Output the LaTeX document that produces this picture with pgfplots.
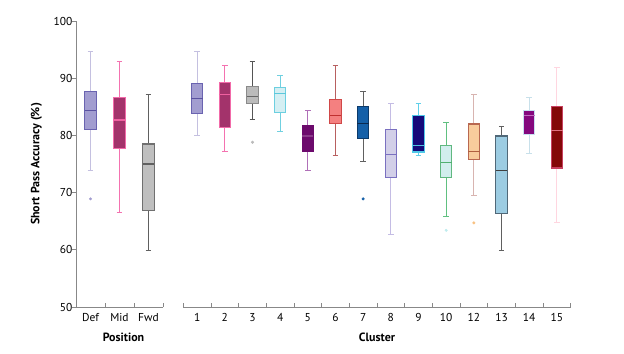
\documentclass[border=0pt]{standalone}
\usepackage{fontspec}
\setmainfont{PT Sans}
\usepackage{pgfplots}
\pgfplotsset{compat=1.18}
\usepgfplotslibrary{statistics}

\definecolor{defF}{HTML}{A29DD0}\definecolor{defB}{HTML}{6A63B0}\definecolor{defM}{HTML}{5A52A0}\definecolor{defW}{HTML}{C4C0E0}
\definecolor{midF}{HTML}{A3336B}\definecolor{midB}{HTML}{F26AA9}\definecolor{midM}{HTML}{F060A0}\definecolor{midW}{HTML}{F472B0}
\definecolor{fwdF}{HTML}{BFBFBF}\definecolor{fwdB}{HTML}{707070}\definecolor{fwdM}{HTML}{606060}\definecolor{fwdW}{HTML}{606060}
\definecolor{c3F}{HTML}{BBBBBB}\definecolor{c3B}{HTML}{8A8A8A}\definecolor{c3M}{HTML}{666666}\definecolor{c3W}{HTML}{555555}
\definecolor{c4F}{HTML}{D4EFF3}\definecolor{c4B}{HTML}{6CCFE0}\definecolor{c4M}{HTML}{5CC8DC}\definecolor{c4W}{HTML}{70D0E0}
\definecolor{c5F}{HTML}{6C0A6C}\definecolor{c5B}{HTML}{6C0A6C}\definecolor{c5M}{HTML}{8A3A8A}\definecolor{c5W}{HTML}{B070B8}
\definecolor{c6F}{HTML}{F48080}\definecolor{c6B}{HTML}{D04848}\definecolor{c6M}{HTML}{C03030}\definecolor{c6W}{HTML}{B86060}
\definecolor{c7F}{HTML}{1560A8}\definecolor{c7B}{HTML}{0C3A6A}\definecolor{c7M}{HTML}{0A2A50}\definecolor{c7W}{HTML}{606060}
\definecolor{c8F}{HTML}{D2CFE8}\definecolor{c8B}{HTML}{7A70C0}\definecolor{c8M}{HTML}{7A70C0}\definecolor{c8W}{HTML}{C4BCE4}
\definecolor{c9F}{HTML}{140A7A}\definecolor{c9B}{HTML}{50C8E8}\definecolor{c9M}{HTML}{50C0E0}\definecolor{c9W}{HTML}{60D0EA}
\definecolor{c10F}{HTML}{D2EEEE}\definecolor{c10B}{HTML}{60B880}\definecolor{c10M}{HTML}{50B070}\definecolor{c10W}{HTML}{60C080}\definecolor{c10O}{HTML}{C0ECEE}
\definecolor{c12F}{HTML}{F8CC9C}\definecolor{c12B}{HTML}{B86850}\definecolor{c12M}{HTML}{B06040}\definecolor{c12W}{HTML}{D8B4B0}\definecolor{c12O}{HTML}{F8C080}
\definecolor{c13F}{HTML}{9CCCE2}\definecolor{c13B}{HTML}{506878}\definecolor{c13M}{HTML}{404040}\definecolor{c13W}{HTML}{606060}
\definecolor{c14F}{HTML}{84087E}\definecolor{c14B}{HTML}{C8E0F0}\definecolor{c14M}{HTML}{C06CC0}\definecolor{c14W}{HTML}{C8E0EA}
\definecolor{c15F}{HTML}{840808}\definecolor{c15B}{HTML}{C84060}\definecolor{c15M}{HTML}{E07080}\definecolor{c15W}{HTML}{FFD6E0}
\definecolor{axgray}{HTML}{888888}

\pgfplotsset{
  bx/.style n args={5}{
    solid, mark=*, mark size=1.3pt, mark options={draw=#5,fill=#5},
    boxplot/draw direction=y,
    boxplot/box extend=0.41, boxplot/whisker extend=0.2,
    boxplot/every box/.style={draw=#2,fill=#1,line width=1.1pt},
    boxplot/every median/.style={draw=#3,line width=1.1pt},
    boxplot/every whisker/.style={draw=#4,fill=none,line width=1pt},
  },
  common/.style={
    scale only axis, height=286bp, ymin=50, ymax=100,
    axis line style={draw=axgray, line width=0.8pt, -},
    tick style={draw=axgray, line width=0.8pt},
    tick align=inside, major tick length=4bp,
    ticklabel style={font=\fontsize{11.5}{13}\selectfont, text=black},
    label style={font=\bfseries\fontsize{12}{14}\selectfont},
    /pgf/number format/assume math mode=true,
    xticklabel style={yshift=-2.5bp},
    xlabel style={yshift=-5bp},
    clip=false,
  }
}

\begin{document}
\begin{tikzpicture}
\path (0,0) rectangle (624bp,354bp);
% Left axis: Position
\begin{axis}[common, at={(76bp,47bp)}, anchor=south west, width=87bp,
  xmin=0, xmax=3, axis x line*=bottom, axis y line*=left,
  xtick={0,1,2,3}, xticklabels={},
  extra x ticks={0.5,1.5,2.5}, extra x tick labels={Def,Mid,Fwd},
  extra x tick style={major tick length=0pt},
  ytick={50,60,...,100}, y tick style={xshift=-4bp},
  ylabel={Short Pass Accuracy (\%)}, xlabel={Position},
  xlabel style={xshift=4bp},
  ylabel style={yshift=5bp},
]
\addplot[bx={defF}{defB}{defM}{defW}{defF}, boxplot prepared={draw position=0.5, lower whisker=73.9, lower quartile=81.0, median=84.3, upper quartile=87.7, upper whisker=94.7}] coordinates {(0,68.9)};
\addplot[bx={midF}{midB}{midM}{midW}{midF}, boxplot prepared={draw position=1.5, lower whisker=66.6, lower quartile=77.7, median=82.7, upper quartile=86.6, upper whisker=93.0}] coordinates {};
\addplot[bx={fwdF}{fwdB}{fwdM}{fwdW}{fwdF}, boxplot prepared={draw position=2.5, lower whisker=59.8, lower quartile=66.9, median=75.0, upper quartile=78.5, upper whisker=87.2}] coordinates {};
\end{axis}
% Right axis: Cluster
\begin{axis}[common, at={(183.3bp,47bp)}, anchor=south west, width=387.4bp,
  xmin=0, xmax=14, axis x line*=bottom, axis y line=none,
  xtick={0,...,14}, xticklabels={},
  extra x ticks={0.5,1.5,...,13.5}, extra x tick labels={1,2,3,4,5,6,7,8,9,10,12,13,14,15},
  extra x tick style={major tick length=0pt},
  xlabel={Cluster},
]
\addplot[bx={defF}{defB}{defM}{defW}{defF}, boxplot prepared={draw position=0.5, lower whisker=79.9, lower quartile=83.8, median=86.4, upper quartile=89.1, upper whisker=94.7}] coordinates {};
\addplot[bx={midF}{midB}{midM}{midW}{midF}, boxplot prepared={draw position=1.5, lower whisker=77.2, lower quartile=81.4, median=87.1, upper quartile=89.3, upper whisker=92.3}] coordinates {};
\addplot[bx={c3F}{c3B}{c3M}{c3W}{c3F}, boxplot prepared={draw position=2.5, lower whisker=82.7, lower quartile=85.6, median=86.8, upper quartile=88.6, upper whisker=93.0}] coordinates {(0,78.8)};
\addplot[bx={c4F}{c4B}{c4M}{c4W}{c4F}, boxplot prepared={draw position=3.5, lower whisker=80.7, lower quartile=84.0, median=87.3, upper quartile=88.4, upper whisker=90.4}] coordinates {};
\addplot[bx={c5F}{c5B}{c5M}{c5W}{c5F}, boxplot prepared={draw position=4.5, lower whisker=73.9, lower quartile=77.2, median=79.9, upper quartile=81.8, upper whisker=84.4}] coordinates {};
\addplot[bx={c6F}{c6B}{c6M}{c6W}{c6F}, boxplot prepared={draw position=5.5, lower whisker=76.4, lower quartile=82.1, median=83.4, upper quartile=86.2, upper whisker=92.3}] coordinates {};
\addplot[bx={c7F}{c7B}{c7M}{c7W}{c7F}, boxplot prepared={draw position=6.5, lower whisker=75.5, lower quartile=79.5, median=82.1, upper quartile=85.1, upper whisker=87.7}] coordinates {(0,68.9)};
\addplot[bx={c8F}{c8B}{c8M}{c8W}{c8F}, boxplot prepared={draw position=7.5, lower whisker=62.6, lower quartile=72.7, median=76.7, upper quartile=81.1, upper whisker=85.5}] coordinates {};
\addplot[bx={c9F}{c9B}{c9M}{c9W}{c9F}, boxplot prepared={draw position=8.5, lower whisker=76.4, lower quartile=77.1, median=78.3, upper quartile=83.5, upper whisker=85.6}] coordinates {};
\addplot[bx={c10F}{c10B}{c10M}{c10W}{c10O}, boxplot prepared={draw position=9.5, lower whisker=65.9, lower quartile=72.6, median=75.3, upper quartile=78.3, upper whisker=82.3}] coordinates {(0,63.4)};
\addplot[bx={c12F}{c12B}{c12M}{c12W}{c12O}, boxplot prepared={draw position=10.5, lower whisker=69.5, lower quartile=75.8, median=77.2, upper quartile=82.0, upper whisker=87.1}] coordinates {(0,64.7)};
\addplot[bx={c13F}{c13B}{c13M}{c13W}{c13F}, boxplot prepared={draw position=11.5, lower whisker=59.8, lower quartile=66.3, median=73.8, upper quartile=79.9, upper whisker=81.6}] coordinates {};
\addplot[bx={c14F}{c14B}{c14M}{c14W}{c14F}, boxplot prepared={draw position=12.5, lower whisker=76.9, lower quartile=80.1, median=83.4, upper quartile=84.4, upper whisker=86.6}] coordinates {};
\addplot[bx={c15F}{c15B}{c15M}{c15W}{c15F}, boxplot prepared={draw position=13.5, lower whisker=64.7, lower quartile=74.3, median=80.8, upper quartile=85.1, upper whisker=91.8}] coordinates {};
\end{axis}
\end{tikzpicture}
\end{document}
